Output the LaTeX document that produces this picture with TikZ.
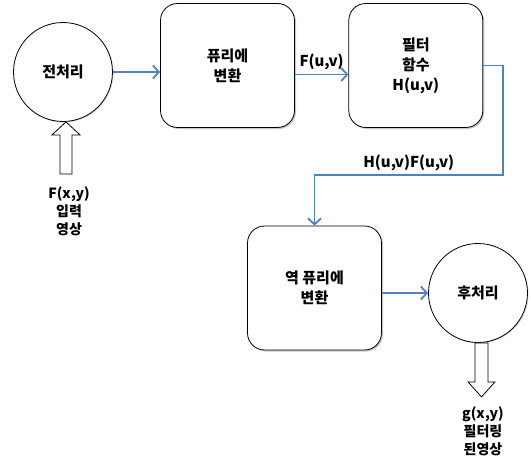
\documentclass[tikz,border=0pt]{standalone}
\usepackage{fontspec}
\setmainfont{Noto Sans CJK KR}
\usetikzlibrary{positioning,shadows,arrows.meta}

\definecolor{linkblue}{RGB}{79,129,189}

\tikzset{
	stage/.style={draw, thick, fill=white, rounded corners=17pt, minimum width=134pt, minimum height=124pt, align=center,
		drop shadow={shadow xshift=1.5pt, shadow yshift=-1.5pt, opacity=0.45}},
	proc/.style={draw, thick, circle, fill=white, minimum size=99pt, inner sep=0pt,
		drop shadow={shadow xshift=1pt, shadow yshift=-1pt, opacity=0.3}},
	flow/.style={-{Straight Barb[length=6pt,width=13pt]}, draw=linkblue, line width=1.8pt},
	hollow/.style={draw, thick, fill=white},
	caption/.style={align=center, font=\bfseries\fontsize{14}{18}\selectfont}
}

\begin{document}
\begin{tikzpicture}[x=1pt,y=-1pt,font=\bfseries\fontsize{15}{20}\selectfont]
	\useasboundingbox (0,0) rectangle (531,463);
	
	\node[proc]  (pre)     at (63,72)  {전처리};
	\node[stage] (fourier) at (227.5,65.5) {퓨리에\\변환};
	\node[stage] (filter)  [right=53.5pt of fourier] {필터\\함수\\H(u,v)};
	\node[stage] (inverse) at (314.5,288) {역 퓨리에\\변환};
	\node[proc]  (post)    at (478,293) {후처리};
	
	\node[caption] (input)  at (69,211)  {F(x,y)\\입력\\영상};
	\node[caption] (output) at (483,431) {g(x,y)\\필터링\\된영상};
	
	\coordinate (turn) at (503,175);
	\coordinate (drop) at (inverse.north |- turn);
	
	\draw[flow] (pre.east) -- (pre.east -| fourier.west);
	\draw[flow] ([yshift=-9pt]fourier.east) -- node[above] {F(u,v)} ([yshift=-9pt]filter.west);
	\draw[flow] (filter.east) -| (turn) -- node[above] {H(u,v)F(u,v)} (drop) -- (inverse.north);
	\draw[flow] ([yshift=-5pt]inverse.east) -- (post.west);
	
	% hollow arrows in and out
	\draw[hollow] (pre.south) ++(3,0) -- ++(14,13) -- ++(-8,0) -- ++(0,39) -- ++(-12,0) -- ++(0,-39) -- ++(-8,0) -- cycle;
	\draw[hollow] (post.south) ++(-3,0) -- ++(0,39) -- ++(-7,0) -- ++(13.5,15) -- ++(13.5,-15) -- ++(-7,0) -- ++(0,-39) -- cycle;
\end{tikzpicture}
\end{document}
